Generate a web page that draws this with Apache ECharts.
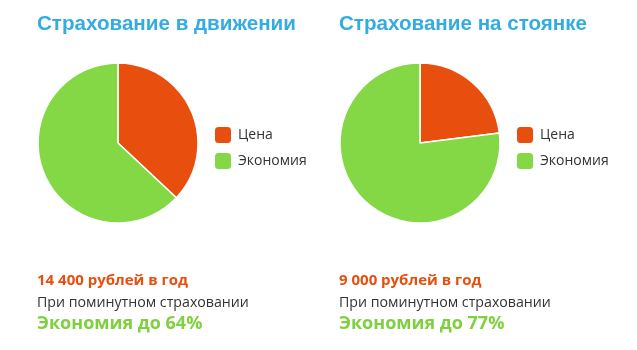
<!DOCTYPE html>
<html>
<head>
<meta charset="utf-8">
<script src="https://cdn.jsdelivr.net/npm/echarts@6/dist/echarts.min.js"></script>
<style>html,body{margin:0;padding:0;background:#fff}#c{width:637px;height:350px}</style>
</head>
<body>
<div id="c"></div>
<script>
var categories = ['Цена', 'Экономия'];
var chartTitles = ['Страхование в движении', 'Страхование на стоянке'];
var movingValues = [37, 63];
var parkingValues = [23, 77];
var priceLines = ['14 400 рублей в год', '9 000 рублей в год'];
var subLines = ['При поминутном страховании', 'При поминутном страховании'];
var savingLines = ['Экономия до 64%', 'Экономия до 77%'];

var ORANGE = '#e84f0e', GREEN = '#84d846', BLUE = '#33ace4';
var allValues = [movingValues, parkingValues];
var centersX = [118, 420];
var blockX = [37, 339];

var chart = echarts.init(document.getElementById('c'), null, {renderer: 'canvas'});

var series = allValues.map(function (vals, i) {
  return {
    type: 'pie',
    center: [centersX[i], 143],
    radius: 80,
    startAngle: 90,
    clockwise: true,
    silent: true,
    animation: false,
    label: {show: false},
    labelLine: {show: false},
    emphasis: {disabled: true},
    itemStyle: {borderColor: '#fff', borderWidth: 1.5},
    data: categories.map(function (c, k) {
      return {name: c, value: vals[k], itemStyle: {color: k === 0 ? ORANGE : GREEN}};
    })
  };
});

var legends = [0, 1].map(function (i) {
  return {
    orient: 'vertical',
    left: centersX[i] + 95,
    top: 125,
    padding: 0,
    itemWidth: 18,
    itemHeight: 18,
    itemGap: 6,
    icon: 'roundRect',
    selectedMode: false,
    data: categories,
    textStyle: {fontFamily: 'Open Sans', fontSize: 14, color: '#333', padding: [0, 0, 0, 1]}
  };
});

var graphics = [];
[0, 1].forEach(function (i) {
  graphics.push({type: 'text', left: blockX[i], top: 14, silent: true,
    style: {text: chartTitles[i], font: 'bold 20.6px "Liberation Sans", Arial, sans-serif', fill: BLUE}});
  graphics.push({type: 'text', left: blockX[i], top: 273, silent: true,
    style: {text: priceLines[i], font: 'bold 15px "Open Sans", sans-serif', fill: ORANGE}});
  graphics.push({type: 'text', left: blockX[i], top: 296, silent: true,
    style: {text: subLines[i], font: '14.2px "Open Sans", sans-serif', fill: '#333'}});
  graphics.push({type: 'text', left: blockX[i], top: 315, silent: true,
    style: {text: savingLines[i], font: 'bold 18px "Open Sans", sans-serif', fill: '#7fd03f'}});
});

chart.setOption({
  backgroundColor: '#fff',
  animation: false,
  legend: legends,
  series: series,
  graphic: graphics
});
</script>
</body>
</html>
